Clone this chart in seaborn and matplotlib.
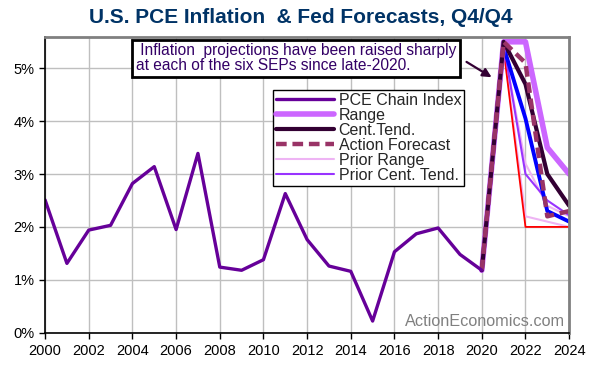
import matplotlib
matplotlib.use("Agg")
import matplotlib.pyplot as plt
import seaborn as sns
import pandas as pd

# --- Data ---
YEARS = list(range(2000, 2021))
PCE = [2.51, 1.31, 1.94, 2.03, 2.82, 3.14, 1.95, 3.39, 1.24, 1.18, 1.38,
       2.63, 1.76, 1.26, 1.16, 0.22, 1.53, 1.87, 1.98, 1.48, 1.18]

PROJ_YEARS = [2020, 2021, 2022, 2023, 2024]
RANGE_HI = [1.18, 5.50, 5.50, 3.50, 3.00]
RANGE_LO = [1.18, 5.35, 2.00, 2.00, 2.00]
CT_HI = [1.18, 5.50, 4.70, 3.00, 2.40]
CT_LO = [1.18, 5.40, 4.05, 2.30, 2.10]
ACTION = [1.18, 5.50, 5.10, 2.20, 2.30]
PRIOR_RANGE_HI = [1.18, 5.40, 3.20, 2.40, 2.20]
PRIOR_RANGE_LO = [1.18, 5.40, 2.20, 2.10, 2.00]
PRIOR_CT = [1.18, 5.45, 3.00, 2.50, 2.22]

TITLE = "U.S. PCE Inflation  & Fed Forecasts, Q4/Q4"
NOTE = " Inflation  projections have been raised sharply\nat each of the six SEPs since late-2020."

sns.set_theme(style="white")
plt.rcParams['font.family'] = ['Liberation Sans', 'DejaVu Sans']

fig = plt.figure(figsize=(6.01, 3.67), dpi=100)
ax = fig.add_axes([0.075, 0.0935, 0.872, 0.807])

hist = pd.DataFrame({"year": YEARS, "val": PCE})
proj = pd.DataFrame({"year": PROJ_YEARS})

# projections first, history on top
series = [
    (PRIOR_RANGE_LO, "#EEB4F4", 1.5, "-", None),
    (PRIOR_RANGE_HI, "#EEB4F4", 1.5, "-", "Prior Range"),
    (RANGE_LO, "#FF0000", 1.3, "-", None),
    (PRIOR_CT, "#9933FF", 1.5, "-", "Prior Cent. Tend."),
    (CT_LO, "#0000FF", 2.8, "-", None),
    (RANGE_HI, "#CC66FF", 4.0, "-", "Range"),
    (CT_HI, "#330033", 3.0, "-", "Cent.Tend."),
    (ACTION, "#993366", 3.2, (0, (2.4, 1.3)), "Action Forecast"),
]
handles = {}
for vals, color, lw, ls, label in series:
    proj["val"] = vals
    sns.lineplot(data=proj, x="year", y="val", ax=ax, color=color,
                 linewidth=lw, linestyle=ls, legend=False)
    if label:
        handles[label] = ax.lines[-1]

sns.lineplot(data=hist, x="year", y="val", ax=ax, color="#660099",
             linewidth=2.4, legend=False)
handles["PCE Chain Index"] = ax.lines[-1]

order = ["PCE Chain Index", "Range", "Cent.Tend.", "Action Forecast",
         "Prior Range", "Prior Cent. Tend."]
leg = ax.legend([handles[k] for k in order], order, loc="upper left",
                bbox_to_anchor=(0.435, 0.82), fontsize=11.5, frameon=True,
                fancybox=False, framealpha=1, edgecolor="black",
                borderpad=0.2, labelspacing=0.0, handlelength=3.6,
                handletextpad=0.3, borderaxespad=0)
leg.get_frame().set_linewidth(1.0)

ax.set_xlim(2000, 2024)
ax.set_ylim(0, 5.6)
ax.set_xticks(range(2000, 2025, 2))
ax.set_yticks(range(0, 6))
ax.set_yticklabels([f"{v}%" for v in range(0, 6)])
ax.set_xlabel("")
ax.set_ylabel("")
ax.grid(True, color="#BFBFBF", linewidth=1.0)
ax.set_axisbelow(True)
ax.tick_params(axis="both", labelsize=10.5, colors="black", length=4,
               width=1, direction="out", bottom=True, left=True)
ax.tick_params(axis="x", pad=4)

for side in ["left", "bottom"]:
    ax.spines[side].set_color("black")
    ax.spines[side].set_linewidth(1.2)
for side in ["top", "right"]:
    ax.spines[side].set_color("#808080")
    ax.spines[side].set_linewidth(2.0)

fig.text(0.5, 0.953, TITLE, ha="center", va="center", fontsize=15,
         fontweight="bold", color="#003366")

ax.text(2004.15, 5.47, NOTE, ha="left", va="top", fontsize=11.2,
        color="#330066", linespacing=1.0,
        bbox=dict(boxstyle="square,pad=0.25", facecolor="white",
                  edgecolor="black", linewidth=2))
ax.annotate("", xy=(2020.45, 4.83), xytext=(2019.3, 5.12),
            arrowprops=dict(arrowstyle="-|>", color="#330033", lw=1.6,
                            mutation_scale=13, shrinkA=0, shrinkB=0))

ax.text(2023.8, 0.22, "ActionEconomics.com", ha="right", va="center",
        fontsize=11.7, color="#808080")

fig.savefig("out.png", dpi=100)
